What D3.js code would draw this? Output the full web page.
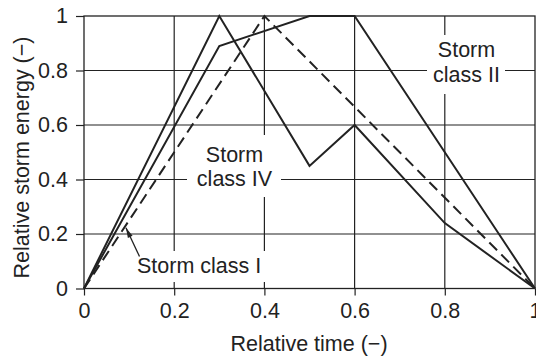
<!DOCTYPE html>
<html>
<head>
<meta charset="utf-8">
<script src="https://cdn.jsdelivr.net/npm/d3@7"></script>
<style>
  html, body { margin: 0; padding: 0; background: #fff; }
  svg { display: block; }
  text { font-family: "Liberation Sans", Arial, Helvetica, sans-serif; fill: #222; }
</style>
</head>
<body>
<svg id="chart" width="536" height="359"></svg>
<script>
// Relative time axis values and tick labels
const timeTicks = [0, 0.2, 0.4, 0.6, 0.8, 1];
const energyTicks = [0, 0.2, 0.4, 0.6, 0.8, 1];

// Storm class I (dashed)
const classITime = [0, 0.4, 1];
const classIEnergy = [0, 1, 0];

// Storm class II
const classIITime = [0, 0.3, 0.5, 0.6, 1];
const classIIEnergy = [0, 0.89, 1, 1, 0];

// Storm class IV
const classIVTime = [0, 0.3, 0.5, 0.6, 0.8, 1];
const classIVEnergy = [0, 1, 0.45, 0.6, 0.24, 0];

const width = 536, height = 359;
const margin = { left: 84, right: 1, top: 16, bottom: 70.5 };
const fontSize = 21.5;

const svg = d3.select("#chart");

const x = d3.scaleLinear().domain([0, 1]).range([margin.left, width - margin.right]);
const y = d3.scaleLinear().domain([0, 1]).range([height - margin.bottom, margin.top]);

const ink = "#222";
const fmt = d => (d === 0 || d === 1) ? String(d) : d.toFixed(1);

// Grid
const grid = svg.append("g").attr("stroke", ink).attr("stroke-width", 1.2);
grid.selectAll("line.v").data(timeTicks.slice(1, -1)).join("line")
  .attr("x1", d => x(d)).attr("x2", d => x(d))
  .attr("y1", y(0)).attr("y2", y(1));
grid.selectAll("line.h").data(energyTicks.slice(1, -1)).join("line")
  .attr("x1", x(0)).attr("x2", x(1))
  .attr("y1", d => y(d)).attr("y2", d => y(d));

// Axes
const xAxis = svg.append("g")
  .attr("transform", `translate(0,${y(0)})`)
  .call(d3.axisBottom(x).tickValues(timeTicks).tickFormat(fmt).tickSize(7).tickPadding(7).tickSizeOuter(0));
const yAxis = svg.append("g")
  .attr("transform", `translate(${x(0)},0)`)
  .call(d3.axisLeft(y).tickValues(energyTicks).tickFormat(fmt).tickSize(8).tickPadding(8).tickSizeOuter(0));
[xAxis, yAxis].forEach(a => {
  a.select(".domain").remove();
  a.selectAll(".tick line").attr("stroke", ink).attr("stroke-width", 1.2);
  a.selectAll(".tick text")
    .style("font-family", '"Liberation Sans", Arial, Helvetica, sans-serif')
    .style("font-size", fontSize + "px").attr("fill", ink);
});

// Axis titles
svg.append("text")
  .attr("x", 309).attr("y", 351)
  .attr("text-anchor", "middle").style("font-size", fontSize + "px")
  .text("Relative time (\u2212)");
svg.append("text")
  .attr("transform", `translate(29,${157.5}) rotate(-90)`)
  .attr("text-anchor", "middle").style("font-size", fontSize + "px")
  .text("Relative storm energy (\u2212)");

// In-plot labels with white knock-out boxes
function boxLabel(lines, cx, baseline, box) {
  svg.append("rect")
    .attr("x", box[0]).attr("y", box[1])
    .attr("width", box[2] - box[0]).attr("height", box[3] - box[1])
    .attr("fill", "#fff");
  lines.forEach((t, i) => {
    svg.append("text")
      .attr("x", cx).attr("y", baseline + i * 24.5)
      .attr("text-anchor", "middle").style("font-size", fontSize + "px")
      .text(t);
  });
}
boxLabel(["Storm", "class IV"], 234.5, 161.5, [187, 135, 281, 197]);
boxLabel(["Storm", "class II"], 466.5, 57, [427, 35, 505, 94]);

// Storm class I label with arrow
svg.append("rect").attr("x", 134).attr("y", 251).attr("width", 134).attr("height", 31).attr("fill", "#fff");
svg.append("text")
  .attr("x", 137).attr("y", 272.5)
  .style("font-size", fontSize + "px")
  .text("Storm class I");

const tip = [x(0.093), y(0.223)];
const tail = [139.5, 256.5];
svg.append("line")
  .attr("x1", tail[0]).attr("y1", tail[1])
  .attr("x2", tip[0]).attr("y2", tip[1])
  .attr("stroke", ink).attr("stroke-width", 1.3);
{
  const ang = Math.atan2(tip[1] - tail[1], tip[0] - tail[0]);
  const L = 10, W = 2.6;
  const bx = tip[0] - L * Math.cos(ang), by = tip[1] - L * Math.sin(ang);
  const px = -Math.sin(ang) * W, py = Math.cos(ang) * W;
  svg.append("path")
    .attr("d", `M${tip[0]},${tip[1]}L${bx + px},${by + py}L${bx - px},${by - py}Z`)
    .attr("fill", ink);
}

// Series lines
const line = d3.line().x(d => x(d[0])).y(d => y(d[1]));
const series = [
  { t: classITime, e: classIEnergy, dash: "11,6" },
  { t: classIITime, e: classIIEnergy, dash: null },
  { t: classIVTime, e: classIVEnergy, dash: null }
];
series.forEach(s => {
  svg.append("path")
    .datum(d3.zip(s.t, s.e))
    .attr("d", line)
    .attr("fill", "none")
    .attr("stroke", ink)
    .attr("stroke-width", 2)
    .attr("stroke-linejoin", "miter")
    .attr("stroke-dasharray", s.dash);
});

// Frame
svg.append("rect")
  .attr("x", x(0)).attr("y", y(1))
  .attr("width", x(1) - x(0)).attr("height", y(0) - y(1))
  .attr("fill", "none").attr("stroke", ink).attr("stroke-width", 1.3);
</script>
</body>
</html>
